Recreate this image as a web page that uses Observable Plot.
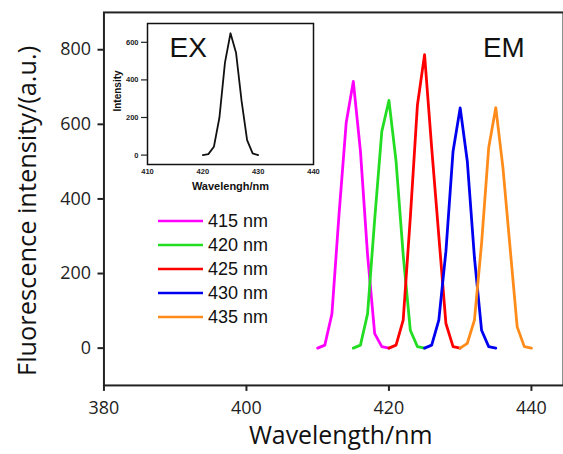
<!DOCTYPE html>
<html>
<head>
<meta charset="utf-8">
<script src="https://cdn.jsdelivr.net/npm/d3@7"></script>
<script src="https://cdn.jsdelivr.net/npm/@observablehq/plot@0.6"></script>
<style>
  html, body { margin: 0; padding: 0; background: white; }
  #wrap { position: relative; width: 563px; height: 454px; overflow: hidden; background: white; }
  #wrap > * { position: absolute; }
</style>
</head>
<body>
<div id="wrap"></div>
<script>
// ---- Data ----
const seriesLabels = ["415 nm", "420 nm", "425 nm", "430 nm", "435 nm"];
const seriesColors = ["#ff00ff", "#22dd22", "#ff0000", "#0000f0", "#ff8c1a"];

const wl415 = [410, 411, 412, 413, 414, 415, 416, 417, 418, 419, 420];
const em415 = [0, 8, 92, 360, 604, 715, 528, 250, 39, 4, 0];
const wl420 = [415, 416, 417, 418, 419, 420, 421, 422, 423, 424, 425];
const em420 = [0, 8, 92, 345, 581, 664, 501, 250, 48, 4, 0];
const wl425 = [420, 421, 422, 423, 424, 425, 426, 427, 428, 429, 430];
const em425 = [0, 8, 75, 350, 652, 787, 537, 301, 66, 4, 0];
const wl430 = [425, 426, 427, 428, 429, 430, 431, 432, 433, 434, 435];
const em430 = [0, 8, 75, 260, 528, 644, 501, 243, 48, 4, 0];
const wl435 = [430, 431, 432, 433, 434, 435, 436, 437, 438, 439, 440];
const em435 = [0, 13, 75, 280, 537, 645, 484, 270, 57, 4, 0];

const exWl = [420, 421, 422, 423, 424, 425, 426, 427, 428, 429, 430];
const exInt = [0, 5, 44, 200, 492, 648, 545, 288, 80, 9, 0];

const xTicks = [380, 400, 420, 440];
const yTicks = [0, 200, 400, 600, 800];
const insetXTicks = [410, 420, 430, 440];
const insetYTicks = [0, 200, 400, 600];

// ---- Build tables ----
const wls = [wl415, wl420, wl425, wl430, wl435];
const ems = [em415, em420, em425, em430, em435];
const rows = [];
seriesLabels.forEach((s, i) => {
  wls[i].forEach((w, j) => rows.push({ series: s, w, v: ems[i][j] }));
});
const exRows = exWl.map((w, i) => ({ w, v: exInt[i] }));

const wrap = document.getElementById("wrap");

// ---- Main chart ----
const main = Plot.plot({
  width: 566,
  height: 454,
  marginLeft: 104,
  marginRight: 0,
  marginTop: 12,
  marginBottom: 67,
  style: { fontFamily: "'Open Sans', sans-serif", fontSize: "18px", color: "#222", background: "white" },
  x: { domain: [380, 444.5] },
  y: { domain: [-100, 900] },
  color: { domain: seriesLabels, range: seriesColors },
  marks: [
    Plot.frame({ stroke: "#222", strokeWidth: 2 }),
    Plot.axisX({ ticks: xTicks, tickSize: 6, tickPadding: 10, label: null, strokeWidth: 2, tickFormat: d => String(d) }),
    Plot.axisY({ ticks: yTicks, tickSize: 6, tickPadding: 7, label: null, strokeWidth: 2, tickFormat: d => String(d) }),
    Plot.line(rows, { x: "w", y: "v", z: "series", stroke: "series", strokeWidth: 2.8 }),
    Plot.text(["Wavelength/nm"], { text: d => d, frameAnchor: "bottom", lineAnchor: "middle", textAnchor: "middle", dx: 7, dy: 51, fontSize: 25, fill: "#111" }),
    Plot.text(["Fluorescence intensity/(a.u.)"], { text: d => d, frameAnchor: "left", textAnchor: "middle", lineAnchor: "middle", dx: -76, dy: 12, rotate: -90, fontSize: 25.5, fill: "#111" }),
    Plot.text(["EM"], { text: d => d, frameAnchor: "top-right", dx: -81, dy: 36, textAnchor: "start", lineAnchor: "middle", fontSize: 28, fontFamily: "'Liberation Sans', Arial, sans-serif", fill: "#111" })
  ]
});
main.style.left = "0px";
main.style.top = "0px";
wrap.appendChild(main);

// ---- Inset (excitation) ----
const inset = Plot.plot({
  width: 220,
  height: 200,
  marginLeft: 47,
  marginRight: 7,
  marginTop: 23,
  marginBottom: 36,
  style: { fontFamily: "'Liberation Sans', Arial, sans-serif", fontSize: "7.5px", fontWeight: "bold", color: "#222", background: "transparent" },
  x: { domain: [410, 440] },
  y: { domain: [-50, 700] },
  marks: [
    Plot.frame({ fill: "white", stroke: "#111", strokeWidth: 1.5 }),
    Plot.axisX({ ticks: insetXTicks, tickSize: 0, tickPadding: 4, label: null, tickFormat: d => String(d) }),
    Plot.axisY({ ticks: insetYTicks, tickSize: 6, tickPadding: 3, label: null, strokeWidth: 1.2, tickFormat: d => String(d) }),
    Plot.line(exRows, { x: "w", y: "v", stroke: "#111", strokeWidth: 1.8 }),
    Plot.text(["EX"], { text: d => d, frameAnchor: "top-left", dx: 22, dy: 25, textAnchor: "start", lineAnchor: "middle", fontSize: 28, fontWeight: "normal", fill: "#111" }),
    Plot.text(["Intensity"], { text: d => d, frameAnchor: "left", textAnchor: "middle", lineAnchor: "middle", dx: -30, dy: -3, rotate: -90, fontSize: 10, fill: "#111" }),
    Plot.text(["Wavelengh/nm"], { text: d => d, frameAnchor: "bottom", textAnchor: "middle", lineAnchor: "middle", dy: 22, fontSize: 11, fill: "#111" })
  ]
});
inset.style.left = "100px";
inset.style.top = "0px";
wrap.appendChild(inset);

// ---- Legend ----
const leg = d3.create("svg").attr("width", 563).attr("height", 454)
  .style("left", "0px").style("top", "0px").style("pointer-events", "none");
const g = leg.selectAll("g").data(seriesLabels).join("g")
  .attr("transform", (d, i) => `translate(158, ${221 + i * 24})`);
g.append("line").attr("x1", 0).attr("x2", 45).attr("y1", 0).attr("y2", 0)
  .attr("stroke", (d, i) => seriesColors[i]).attr("stroke-width", 2.6);
g.append("text").attr("x", 50).attr("y", 0).attr("dy", "0.35em")
  .attr("font-family", "'Liberation Sans', Arial, sans-serif").attr("font-size", 18)
  .attr("fill", "#111").text(d => d);
wrap.appendChild(leg.node());
</script>
</body>
</html>
